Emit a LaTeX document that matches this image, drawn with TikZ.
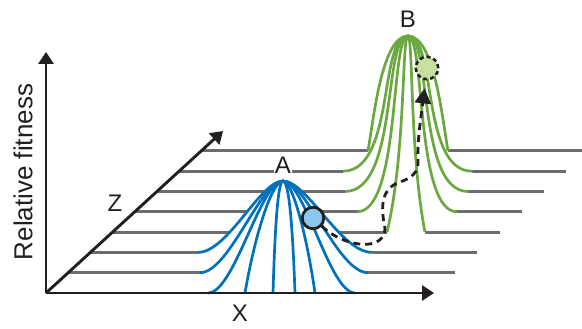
\documentclass[tikz,border=0pt]{standalone}
\usepackage{fontspec}
\setmainfont{Liberation Sans}
\usetikzlibrary{arrows.meta,calc}
\definecolor{inkA}{RGB}{0,114,188}
\definecolor{inkB}{RGB}{106,168,64}
\definecolor{ballfillA}{RGB}{138,201,236}
\definecolor{ballfillB}{RGB}{198,224,160}
\definecolor{floorgray}{RGB}{108,108,110}
\definecolor{axisink}{RGB}{35,31,32}

% one peak: style, apex x, apex y, list level/x left/x right/flare/lift/dome
\newcommand\drawpeak[4]{%
  \foreach \lev/\xl/\xr/\fa/\fq/\fb in {#4} {
    \pgfmathsetmacro\yb{293-20.3*\lev}
    \pgfmathsetmacro\dl{#2-\xl}
    \pgfmathsetmacro\dr{\xr-#2}
    \pgfmathsetmacro\hh{\yb-#3}
    \fill[white] (\xl,\yb+2) -- (\xl,\yb) .. controls +(\fa*\dl,-\fq*\hh) and +(-\fb*\dl,0) .. (#2,#3)
      .. controls +(\fb*\dr,0) and +(-\fa*\dr,-\fq*\hh) .. (\xr,\yb) -- (\xr,\yb+2) -- cycle;
  }
  \foreach \lev/\xl/\xr/\fa/\fq/\fb in {#4} {
    \pgfmathsetmacro\yb{293-20.3*\lev}
    \pgfmathsetmacro\dl{#2-\xl}
    \pgfmathsetmacro\dr{\xr-#2}
    \pgfmathsetmacro\hh{\yb-#3}
    \draw[#1] (\xl,\yb) .. controls +(\fa*\dl,-\fq*\hh) and +(-\fb*\dl,0) .. (#2,#3)
      .. controls +(\fb*\dr,0) and +(-\fa*\dr,-\fq*\hh) .. (\xr,\yb);
  }
}

\begin{document}
\begin{tikzpicture}[
  x=1pt, y=-1pt,
  font=\fontsize{24}{28}\selectfont,
  axisline/.style={draw=axisink, line width=2.9pt, -{Triangle[length=12pt,width=15pt]}},
  gridline/.style={draw=floorgray, line width=2.8pt},
  ridgeA/.style={draw=inkA, line width=2.7pt},
  ridgeB/.style={draw=inkB, line width=2.7pt},
  lbl/.style={inner sep=1pt, text=axisink},
  ballA/.style={circle, draw=axisink, line width=2.8pt, fill=ballfillA, minimum size=21.5pt, inner sep=0pt},
  ballB/.style={circle, draw=axisink, line width=2.6pt, dash pattern=on 4pt off 3pt, fill=ballfillB, minimum size=22.5pt, inner sep=0pt},
  trail/.style={draw=axisink, line width=2.8pt, dash pattern=on 7pt off 5pt, -{Triangle[length=15pt,width=16pt]}, shorten >=8pt}
]
\useasboundingbox (0,0) rectangle (582,329);

% floor lines, one per level along Z
\foreach \lev in {1,...,7}
  \draw[gridline] ({46+22.2*\lev},{293-20.3*\lev}) -- ({min(433+22.2*\lev,582)},{293-20.3*\lev});

% peak B (back) then peak A (front)
\drawpeak{ridgeB}{408}{36}{7/368/448/.15/.3/.65, 6/343/472/.8/0/.45, 5/345/468/.85/0/.4, 4/357/457/.85/0/.35, 3/387/425/.9/.4/.3}
\drawpeak{ridgeA}{283}{181}{2/198/372/.35/0/.27, 1/200/368/.35/0/.27, 0/208/355/.35/0/.3, 0/245/315/.25/.5/.3, 0/273/295/.2/.6/.5}

% axes
\coordinate (O) at (46,293);
\coordinate (ytip) at (46,52);
\coordinate (xtip) at (434,293);
\coordinate (ztip) at (223,131);
\draw[axisline] (O) -- (ytip);
\draw[axisline] (O) -- (xtip);
\draw[axisline] (O) -- (ztip);

\node[lbl, rotate=90, font=\fontsize{26}{30}\selectfont] (labY) at (23,172) {Relative fitness};
\node[lbl] (labX) at (240,313) {X};
\node[lbl] (labZ) at (115,203) {Z};
\node[lbl, fill=white] (labA) at (283,165) {A};
\node[lbl] (labB) at (408,19) {B};

\node[ballA] (ballA) at (313,218) {};
\node[ballB] (ballB) at (427,68) {};
\draw[trail] (ballA) .. controls (345,248) and (385,252) .. (385,228)
  .. controls (380,205) and (382,188) .. (400,182)
  .. controls (412,178) and (419,172) .. (418,160)
  .. controls (417,140) and (422,110) .. (ballB);
\end{tikzpicture}
\end{document}
